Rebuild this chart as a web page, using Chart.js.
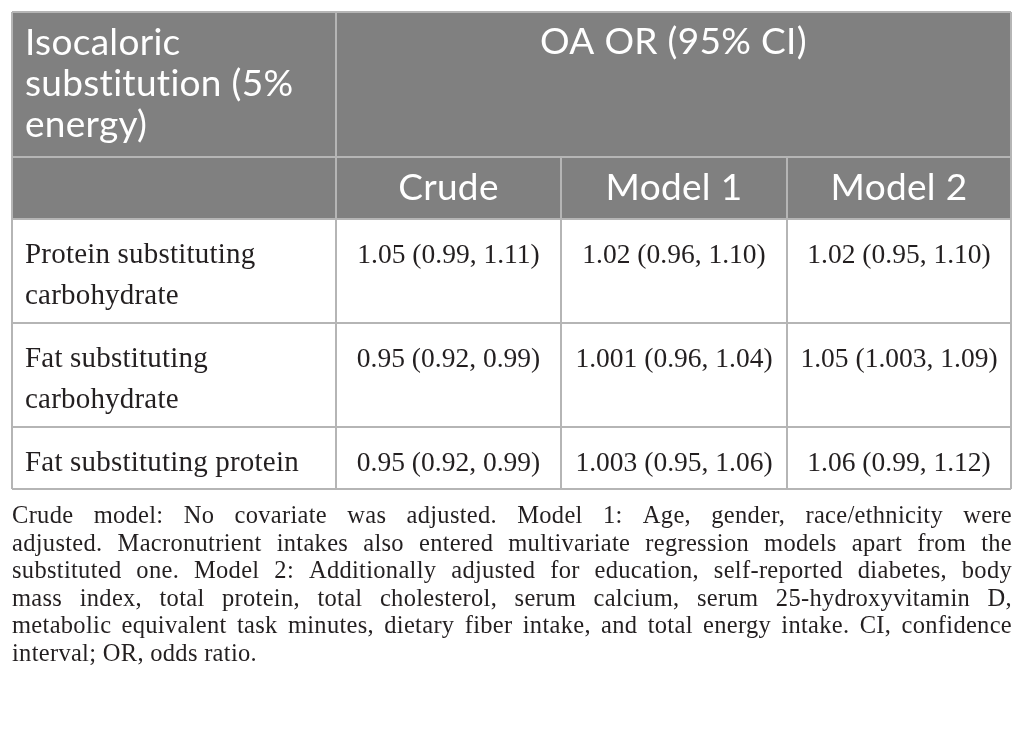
<!DOCTYPE html>
<html>
<head>
<meta charset="utf-8">
<script src="https://cdn.jsdelivr.net/npm/chart.js@4.4.1/dist/chart.umd.min.js"></script>
<style>
  html,body{margin:0;padding:0;background:#fff;}
  #wrap{width:1024px;height:732px;position:relative;}
</style>
</head>
<body>
<div id="wrap"><canvas id="tbl"></canvas></div>
<script>
// table content
const cornerHead  = ['Isocaloric', 'substitution (5%', 'energy)'];
const groupHead   = 'OA OR (95% CI)';
const modelHeads  = ['Crude', 'Model 1', 'Model 2'];
const rowLabels   = [
  ['Protein substituting', 'carbohydrate'],
  ['Fat substituting', 'carbohydrate'],
  ['Fat substituting protein']
];
const crudeVals   = ['1.05 (0.99, 1.11)', '0.95 (0.92, 0.99)', '0.95 (0.92, 0.99)'];
const model1Vals  = ['1.02 (0.96, 1.10)', '1.001 (0.96, 1.04)', '1.003 (0.95, 1.06)'];
const model2Vals  = ['1.02 (0.95, 1.10)', '1.05 (1.003, 1.09)', '1.06 (0.99, 1.12)'];
const footLines   = [
  'Crude model: No covariate was adjusted. Model 1: Age, gender, race/ethnicity were',
  'adjusted. Macronutrient intakes also entered multivariate regression models apart from the',
  'substituted one. Model 2: Additionally adjusted for education, self-reported diabetes, body',
  'mass index, total protein, total cholesterol, serum calcium, serum 25-hydroxyvitamin D,',
  'metabolic equivalent task minutes, dietary fiber intake, and total energy intake. CI, confidence',
  'interval; OR, odds ratio.'
];

// layout (scale units)
const colEdges = [12, 336, 561, 787, 1011];
const rowEdges = [12, 157, 219, 323, 427, 489];
const SANS  = 'Lato, "Open Sans", sans-serif';
const SERIF = '"Liberation Serif", "DejaVu Serif", serif';

const tablePlugin = {
  id: 'tablePlugin',
  afterDraw(chart){
    const {ctx, scales:{x, y}} = chart;
    const X = v => x.getPixelForValue(v);
    const Y = v => y.getPixelForValue(v);
    const cx = i => (X(colEdges[i]) + X(colEdges[i+1])) / 2;
    ctx.save();

    // header fill
    ctx.fillStyle = '#808080';
    ctx.fillRect(X(colEdges[0]), Y(rowEdges[0]), X(colEdges[4]) - X(colEdges[0]), Y(rowEdges[2]) - Y(rowEdges[0]));

    // grid
    ctx.strokeStyle = '#b5b5b5';
    ctx.lineWidth = 2;
    const line = (x1,y1,x2,y2) => { ctx.beginPath(); ctx.moveTo(X(x1),Y(y1)); ctx.lineTo(X(x2),Y(y2)); ctx.stroke(); };
    rowEdges.forEach(r => line(colEdges[0], r, colEdges[4], r));
    line(colEdges[0], rowEdges[0], colEdges[0], rowEdges[5]);
    line(colEdges[1], rowEdges[0], colEdges[1], rowEdges[5]);
    line(colEdges[4], rowEdges[0], colEdges[4], rowEdges[5]);
    line(colEdges[2], rowEdges[1], colEdges[2], rowEdges[5]);
    line(colEdges[3], rowEdges[1], colEdges[3], rowEdges[5]);

    // header text
    ctx.fillStyle = '#ffffff';
    ctx.textBaseline = 'alphabetic';
    ctx.font = '37px ' + SANS;
    ctx.letterSpacing = '0.3px';
    ctx.textAlign = 'left';
    cornerHead.forEach((t,i) => ctx.fillText(t, X(25), Y(55 + i*41)));
    ctx.textAlign = 'center';
    ctx.fillText(groupHead, (X(colEdges[1]) + X(colEdges[4]))/2, Y(54));
    modelHeads.forEach((t,i) => ctx.fillText(t, cx(i+1), Y(200)));

    // body
    ctx.fillStyle = '#231f20';
    const cols = [crudeVals, model1Vals, model2Vals];
    rowLabels.forEach((lab, r) => {
      const base = rowEdges[r+2] + 44;
      ctx.font = '29px ' + SERIF;
      ctx.letterSpacing = '0.2px';
      ctx.textAlign = 'left';
      lab.forEach((t,i) => ctx.fillText(t, X(25), Y(base + i*41)));
      ctx.font = '27.5px ' + SERIF;
      ctx.letterSpacing = '0px';
      ctx.textAlign = 'center';
      cols.forEach((vals, c) => ctx.fillText(vals[r], cx(c+1), Y(base)));
    });

    // footnote, justified
    ctx.font = '24.5px ' + SERIF;
    ctx.letterSpacing = '0.3px';
    ctx.textAlign = 'left';
    const fx0 = X(12), fx1 = X(1012);
    footLines.forEach((ln, i) => {
      const yy = Y(523 + i*27.5);
      const words = ln.split(' ');
      if (i === footLines.length - 1){ ctx.fillText(ln, fx0, yy); return; }
      const wsum = words.reduce((s,w) => s + ctx.measureText(w).width, 0);
      const gap = Math.max(3, (fx1 - fx0 - wsum) / (words.length - 1));
      let px = fx0;
      words.forEach(w => { ctx.fillText(w, px, yy); px += ctx.measureText(w).width + gap; });
    });
    ctx.restore();
  }
};

new Chart(document.getElementById('tbl'), {
  type: 'scatter',
  data: { datasets: [{ data: [], pointRadius: 0 }] },
  options: {
    responsive: true,
    maintainAspectRatio: false,
    animation: false,
    layout: { padding: 0 },
    plugins: { legend: { display: false }, tooltip: { enabled: false } },
    scales: {
      x: { type: 'linear', min: 0, max: 1024, display: false },
      y: { type: 'linear', min: 0, max: 732, reverse: true, display: false }
    }
  },
  plugins: [tablePlugin]
});
</script>
</body>
</html>
